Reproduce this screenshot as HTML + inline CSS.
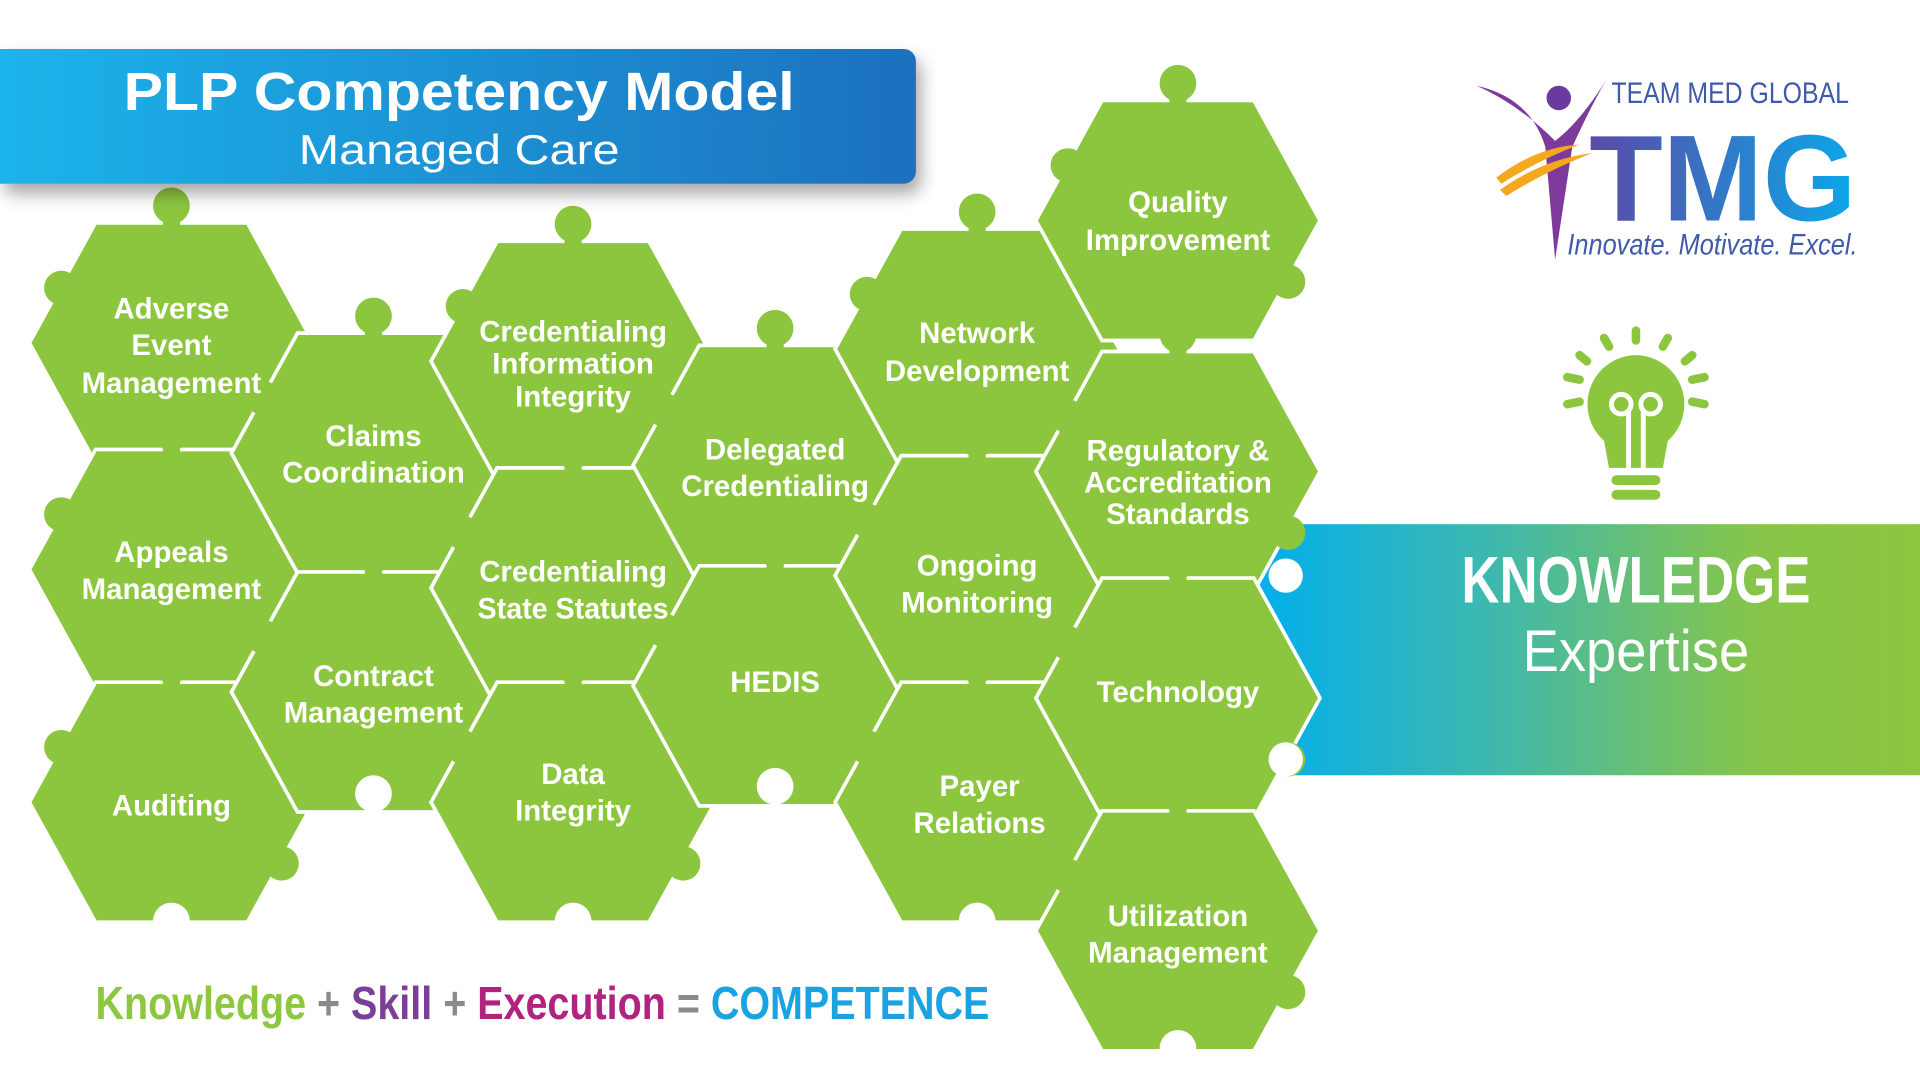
<!DOCTYPE html>
<html><head><meta charset="utf-8"><style>
html,body{margin:0;padding:0;background:#fff;width:1920px;height:1079px;overflow:hidden}
svg{display:block}
.t{font-family:"Liberation Sans Narrow","Liberation Sans",sans-serif;font-weight:bold;fill:#fff;font-size:24px;text-anchor:middle}
</style></head><body>
<svg width="1920" height="1079" viewBox="0 0 1568 881" preserveAspectRatio="none">
<defs>
<linearGradient id="bn" x1="0" x2="1"><stop offset="0" stop-color="#1ab4ea"/><stop offset="1" stop-color="#1c70bd"/></linearGradient>
<linearGradient id="kn" x1="0" x2="1"><stop offset="0" stop-color="#00aeef"/><stop offset="0.35" stop-color="#3cb8b0"/><stop offset="0.75" stop-color="#86c54a"/><stop offset="1" stop-color="#8dc63f"/></linearGradient>
<linearGradient id="tm" x1="0" x2="1"><stop offset="0" stop-color="#5a4aa8"/><stop offset="1" stop-color="#0aa8e8"/></linearGradient>
<filter id="sh" x="-5%" y="-20%" width="115%" height="160%"><feDropShadow dx="4" dy="8" stdDeviation="7" flood-opacity="0.35"/></filter>
<g id="pc">
<polygon points="-62,-98 62,-98 116,0 62,98 -62,98 -116,0" fill="#8cc63f" stroke="#fff" stroke-width="3"/>
<circle cx="0" cy="-112" r="15" fill="#8cc63f"/>
<rect x="-7" y="-102" width="14" height="12" fill="#8cc63f"/>
<circle cx="-90" cy="-45" r="14" fill="#8cc63f"/>
<circle cx="90" cy="50" r="14" fill="#8cc63f"/>
</g>
</defs>
<rect x="1020" y="428" width="548" height="205" fill="url(#kn)"/>
<g>
<use href="#pc" x="140" y="280"/><use href="#pc" x="140" y="465"/><use href="#pc" x="140" y="655"/>
<use href="#pc" x="305" y="370"/><use href="#pc" x="305" y="565"/>
<use href="#pc" x="468" y="295"/><use href="#pc" x="468" y="480"/><use href="#pc" x="468" y="655"/>
<use href="#pc" x="633" y="380"/><use href="#pc" x="633" y="560"/>
<use href="#pc" x="798" y="285"/><use href="#pc" x="798" y="470"/><use href="#pc" x="798" y="655"/>
<use href="#pc" x="962" y="180"/><use href="#pc" x="962" y="385"/><use href="#pc" x="962" y="570"/><use href="#pc" x="962" y="760"/>
</g>
<g fill="#fff">
<circle cx="305" cy="648" r="15"/><circle cx="633" cy="642" r="15"/><circle cx="140" cy="752" r="15"/><circle cx="468" cy="752" r="15"/><circle cx="798" cy="752" r="15"/><circle cx="962" cy="856" r="15"/>
<circle cx="1050" cy="470" r="14"/><circle cx="1050" cy="620" r="14"/>
</g>
<text class="t"><tspan x="140" y="260">Adverse</tspan><tspan x="140" y="290">Event</tspan><tspan x="140" y="321">Management</tspan></text>
<text class="t"><tspan x="305" y="364">Claims</tspan><tspan x="305" y="394">Coordination</tspan></text>
<text class="t"><tspan x="468" y="279">Credentialing</tspan><tspan x="468" y="305">Information</tspan><tspan x="468" y="332">Integrity</tspan></text>
<text class="t"><tspan x="633" y="375">Delegated</tspan><tspan x="633" y="405">Credentialing</tspan></text>
<text class="t"><tspan x="798" y="280">Network</tspan><tspan x="798" y="311">Development</tspan></text>
<text class="t"><tspan x="962" y="173">Quality</tspan><tspan x="962" y="204">Improvement</tspan></text>
<text class="t"><tspan x="962" y="376">Regulatory &amp;</tspan><tspan x="962" y="402">Accreditation</tspan><tspan x="962" y="428">Standards</tspan></text>
<text class="t"><tspan x="140" y="459">Appeals</tspan><tspan x="140" y="489">Management</tspan></text>
<text class="t"><tspan x="468" y="475">Credentialing</tspan><tspan x="468" y="505" textLength="156" lengthAdjust="spacingAndGlyphs">State Statutes</tspan></text>
<text class="t"><tspan x="798" y="470">Ongoing</tspan><tspan x="798" y="500">Monitoring</tspan></text>
<text class="t"><tspan x="305" y="560">Contract</tspan><tspan x="305" y="590">Management</tspan></text>
<text class="t"><tspan x="633" y="565">HEDIS</tspan></text>
<text class="t"><tspan x="962" y="573">Technology</tspan></text>
<text class="t"><tspan x="140" y="666">Auditing</tspan></text>
<text class="t"><tspan x="468" y="640">Data</tspan><tspan x="468" y="670">Integrity</tspan></text>
<text class="t"><tspan x="800" y="650">Payer</tspan><tspan x="800" y="680">Relations</tspan></text>
<text class="t"><tspan x="962" y="756">Utilization</tspan><tspan x="962" y="786">Management</tspan></text>
<path d="M0,40 H738 a10,10 0 0 1 10,10 V140 a10,10 0 0 1 -10,10 H0 Z" fill="url(#bn)" filter="url(#sh)"/>
<text x="375" y="90" font-family="Liberation Sans,sans-serif" font-size="44" font-weight="bold" fill="#fff" text-anchor="middle" textLength="548" lengthAdjust="spacingAndGlyphs">PLP Competency Model</text>
<text x="375" y="134" font-family="Liberation Sans,sans-serif" font-size="34" fill="#fff" text-anchor="middle" textLength="262" lengthAdjust="spacingAndGlyphs">Managed Care</text>
<text x="1336" y="492" font-family="Liberation Sans,sans-serif" font-size="54" font-weight="bold" fill="#fff" text-anchor="middle" textLength="285" lengthAdjust="spacingAndGlyphs">KNOWLEDGE</text>
<text x="1336" y="548" font-family="Liberation Sans,sans-serif" font-size="48" fill="#fff" text-anchor="middle" textLength="185" lengthAdjust="spacingAndGlyphs">Expertise</text>
<text x="78" y="832" font-family="Liberation Sans,sans-serif" font-size="38" font-weight="bold" textLength="730" lengthAdjust="spacingAndGlyphs"><tspan fill="#8dc63f">Knowledge</tspan><tspan fill="#8a8a8a"> + </tspan><tspan fill="#7b3f97">Skill</tspan><tspan fill="#8a8a8a"> + </tspan><tspan fill="#b0247f">Execution</tspan><tspan fill="#8a8a8a"> = </tspan><tspan fill="#1aa3e0">COMPETENCE</tspan></text>
<!-- logo -->
<path d="M1206,70 Q1250,80 1262,120 L1270,212 L1284,120 Q1300,85 1312,65 Q1290,100 1270,115 Q1240,85 1206,70Z" fill="#7d3a9a"/>
<circle cx="1273" cy="80" r="10" fill="#6a3aa0"/>
<path d="M1225,155 Q1260,130 1300,125 Q1262,140 1230,160Z M1222,145 Q1255,120 1290,118 Q1258,130 1226,150Z" fill="#f3a81d"/>
<text x="1316" y="84" font-family="Liberation Sans,sans-serif" font-size="24" fill="#3f5aa8" textLength="194" lengthAdjust="spacingAndGlyphs">TEAM MED GLOBAL</text>
<text x="1298" y="180" font-family="Liberation Sans,sans-serif" font-size="100" font-weight="bold" fill="url(#tm)" textLength="218" lengthAdjust="spacingAndGlyphs">TMG</text>
<text x="1280" y="208" font-family="Liberation Sans,sans-serif" font-size="24" font-style="italic" fill="#3f5aa8" textLength="237" lengthAdjust="spacingAndGlyphs">Innovate. Motivate. Excel.</text>
<!-- bulb -->
<g fill="#8cc63f">
<path d="M1336,290 a40,40 0 0 1 26,70 l-4,22 h-44 l-4,-22 a40,40 0 0 1 26,-70z"/>
<rect x="1316" y="388" width="40" height="8" rx="4"/><rect x="1316" y="400" width="40" height="8" rx="4"/>
<g stroke="#8cc63f" stroke-width="7" stroke-linecap="round">
<line x1="1336" y1="270" x2="1336" y2="278"/><line x1="1310" y1="276" x2="1314" y2="283"/><line x1="1362" y1="276" x2="1358" y2="283"/>
<line x1="1290" y1="290" x2="1296" y2="295"/><line x1="1382" y1="290" x2="1376" y2="295"/>
<line x1="1280" y1="308" x2="1290" y2="310"/><line x1="1392" y1="308" x2="1382" y2="310"/>
<line x1="1280" y1="330" x2="1290" y2="328"/><line x1="1392" y1="330" x2="1382" y2="328"/></g>
</g>
<g stroke="#fff" stroke-width="4" fill="none"><circle cx="1324" cy="330" r="8"/><circle cx="1348" cy="330" r="8"/><line x1="1330" y1="336" x2="1330" y2="382"/><line x1="1342" y1="336" x2="1342" y2="382"/></g>
</svg>
</body></html>
